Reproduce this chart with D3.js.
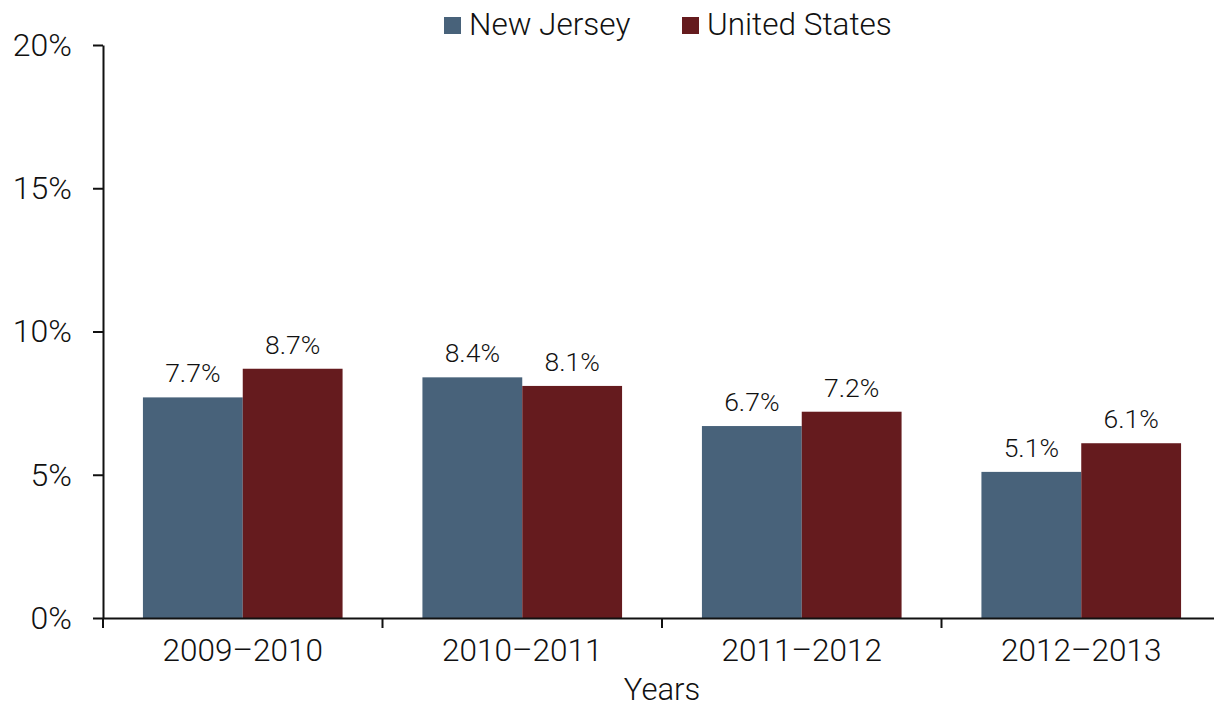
<!DOCTYPE html>
<html>
<head>
<meta charset="utf-8">
<script src="https://cdn.jsdelivr.net/npm/d3@7"></script>
<style>
  body { margin: 0; background: #fff; }
  text { font-family: Roboto, "Liberation Sans", sans-serif; font-weight: 300; fill: #111; }
</style>
</head>
<body>
<svg id="chart" width="1214" height="707"></svg>
<script>
// Data
const years = ["2009\u20132010", "2010\u20132011", "2011\u20132012", "2012\u20132013"];
const seriesNames = ["New Jersey", "United States"];
const newJersey = [7.7, 8.4, 6.7, 5.1];
const unitedStates = [8.7, 8.1, 7.2, 6.1];
const yTicks = [0, 5, 10, 15, 20];

const colors = { "New Jersey": "#48627a", "United States": "#651b1e" };

const rows = years.map((y, i) => ({
    year: y,
    values: [
        { key: "New Jersey", value: newJersey[i] },
        { key: "United States", value: unitedStates[i] }
    ]
}));

const svg = d3.select("#chart");

// Scales
const x = d3.scaleBand()
    .domain(years)
    .range([103, 1221])
    .paddingInner(0)
    .paddingOuter(0);

const xs = d3.scaleBand()
    .domain(seriesNames)
    .range([0, x.bandwidth()])
    .paddingInner(0)
    .paddingOuter(0.4);

const y = d3.scaleLinear()
    .domain([0, 20])
    .range([618, 45]);

// Bars
const groups = svg.selectAll(".grp")
    .data(rows)
    .enter()
    .append("g")
    .attr("class", "grp")
    .attr("transform", d => `translate(${x(d.year)},0)`);

groups.selectAll("rect")
    .data(d => d.values)
    .enter()
    .append("rect")
    .attr("x", d => xs(d.key))
    .attr("y", d => y(d.value))
    .attr("width", xs.bandwidth())
    .attr("height", d => y(0) - y(d.value))
    .attr("fill", d => colors[d.key]);

// Value labels
groups.selectAll(".val")
    .data(d => d.values)
    .enter()
    .append("text")
    .attr("class", "val")
    .attr("x", d => xs(d.key) + xs.bandwidth() / 2)
    .attr("y", d => y(d.value) - 15)
    .attr("text-anchor", "middle")
    .style("font-size", "26.5px")
    .text(d => d.value.toFixed(1) + "%");

// Y axis
const yAxis = svg.append("g")
    .attr("transform", "translate(103,0)")
    .call(d3.axisLeft(y).tickValues(yTicks).tickSize(10).tickSizeOuter(0).tickFormat(d => d + "%"));

yAxis.select(".domain").attr("stroke", "#111").attr("stroke-width", 2);
yAxis.selectAll(".tick line").attr("stroke", "#111").attr("stroke-width", 2);
yAxis.selectAll(".tick text")
    .attr("x", -31)
    .style("font-size", "32px")
    .style("font-family", "Roboto, 'Liberation Sans', sans-serif")
    .attr("fill", "#111");

// X axis (labels centred in bands)
const xAxis = svg.append("g")
    .attr("transform", "translate(0,618)")
    .call(d3.axisBottom(x).tickSize(0).tickSizeOuter(0));

xAxis.select(".domain").attr("stroke", "#111").attr("stroke-width", 2);
xAxis.selectAll(".tick text")
    .attr("y", 43)
    .attr("dy", 0)
    .style("font-size", "31.5px")
    .style("font-family", "Roboto, 'Liberation Sans', sans-serif")
    .attr("fill", "#111");

// Category boundary ticks
xAxis.selectAll(".bound")
    .data(years)
    .enter()
    .append("line")
    .attr("class", "bound")
    .attr("x1", d => x(d))
    .attr("x2", d => x(d))
    .attr("y1", 0)
    .attr("y2", 10)
    .attr("stroke", "#111")
    .attr("stroke-width", 2);

// Axis title
svg.append("text")
    .attr("x", (x.range()[0] + x.range()[1]) / 2)
    .attr("y", 700)
    .attr("text-anchor", "middle")
    .style("font-size", "31px")
    .text("Years");

// Legend
const legendX = { "New Jersey": 444, "United States": 682 };
const legend = svg.selectAll(".legend")
    .data(seriesNames)
    .enter()
    .append("g")
    .attr("class", "legend")
    .attr("transform", d => `translate(${legendX[d]},17)`);

legend.append("rect")
    .attr("width", 17)
    .attr("height", 17)
    .attr("fill", d => colors[d]);

legend.append("text")
    .attr("x", 25)
    .attr("y", 18)
    .style("font-size", "31.5px")
    .text(d => d);
</script>
</body>
</html>
